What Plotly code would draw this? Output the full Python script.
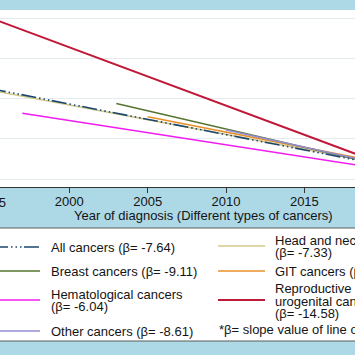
import plotly.graph_objects as go

# ---- data (lines of best fit) ----
series = ["All cancers", "Breast cancers", "Hematological cancers", "Other cancers",
          "Head and neck cancers", "GIT cancers", "Reproductive and urogenital cancers"]
betas = ["-7.64", "-9.11", "-6.04", "-8.61", "-7.33", "-7.70", "-14.58"]
start_year = [1995, 2003, 1997, 2010, 1995, 2005, 1995]
end_year = [2019, 2019, 2019, 2019, 2019, 2019, 2019]
start_val = [225, 188, 164, 122, 221, 155, 401]
end_val = [42, 43, 31, 45, 45, 48, 52]
x_ticks = [2000, 2005, 2010, 2015]
y_grid = [0, 100, 200, 300, 400]

# ---- styles ----
colors = {
    "All cancers": "#1a476f",
    "Breast cancers": "#55752f",
    "Hematological cancers": "#f01cf0",
    "Other cancers": "#948ed4",
    "Head and neck cancers": "#d2c88a",
    "GIT cancers": "#e8902a",
    "Reproductive and urogenital cancers": "#c01838",
}
widths = {"Reproductive and urogenital cancers": 2.0}
ALL_DASH = "15px,3px,1.5px,3px,1.5px,3px,1.5px,2.5px"
FONT = "Liberation Sans, Arial, Helvetica, sans-serif"
W, H = 355, 355
T, B = 10, 187  # plot area top / bottom in px

fig = go.Figure()
draw_order = [4, 5, 1, 2, 3, 0, 6]
for i in draw_order:
    name = series[i]
    fig.add_trace(go.Scatter(
        x=[start_year[i], end_year[i]], y=[start_val[i], end_val[i]],
        mode="lines", name=name, showlegend=False, hoverinfo="skip",
        line=dict(color=colors[name], width=widths.get(name, 1.6),
                  dash=ALL_DASH if name == "All cancers" else "solid"),
    ))


def px(xp):
    return xp / W


def py(yp):
    return (B - yp) / (B - T)


shapes = []
annots = []

# legend box
shapes.append(dict(type="rect", xref="paper", yref="paper", x0=-0.05, x1=1.05,
                   y0=py(341), y1=py(228), fillcolor="white",
                   line=dict(color="#5a5a5a", width=1), layer="below"))


def txt(s, xp, yp, anchor="left", size=13):
    annots.append(dict(text=s, x=px(xp), y=py(yp), xref="paper", yref="paper",
                       xanchor=anchor, yanchor="middle", showarrow=False,
                       font=dict(family=FONT, size=size, color="#141414")))


def legline(name, x0, x1, yp):
    shapes.append(dict(type="line", xref="paper", yref="paper",
                       x0=px(x0), x1=px(x1), y0=py(yp), y1=py(yp),
                       line=dict(color=colors[name], width=widths.get(name, 1.6),
                                 dash=ALL_DASH if name == "All cancers" else "solid")))


def lab(i):
    return series[i] + " (β= " + betas[i] + ")"


# left column
legline(series[0], -7, 40, 247)
txt(lab(0), 49, 247)
legline(series[1], -7, 40, 271)
txt(lab(1), 49, 271)
legline(series[2], -7, 40, 300)
txt(series[2], 49, 294)
txt("(β= " + betas[2] + ")", 49, 306)
legline(series[3], -7, 40, 331)
txt(lab(3), 49, 331)

# right column
legline(series[4], 218, 265, 246)
txt(series[4], 273, 240)
txt("(β= " + betas[4] + ")", 273, 253)
legline(series[5], 218, 265, 271)
txt(lab(5), 273, 271)
legline(series[6], 218, 265, 300)
txt("Reproductive and", 273, 288)
txt("urogenital cancers", 273, 301)
txt("(β= " + betas[6] + ")", 273, 313)
txt("*β= slope value of line of best fit", 217, 329)

# axis title and clipped first tick label
txt("Year of diagnosis (Different types of cancers)", 203, 215, anchor="center")
txt("1995", -9, 202, anchor="center")

fig.update_layout(
    width=W, height=H,
    margin=dict(l=0, r=0, t=T, b=H - B, pad=0),
    paper_bgcolor="#add8e6",
    plot_bgcolor="white",
    font=dict(family=FONT, size=13, color="#141414"),
    shapes=shapes, annotations=annots,
    xaxis=dict(range=[1995.577, 2018.232], tickmode="array", tickvals=x_ticks,
               ticktext=[str(v) for v in x_ticks],
               ticks="outside", ticklen=5, tickcolor="#333", tickwidth=1,
               ticklabelstandoff=-3,
               showline=True, linecolor="#333", linewidth=1,
               showgrid=False, zeroline=False,
               tickfont=dict(family=FONT, size=13, color="#141414")),
    yaxis=dict(range=[-19.95, 421.2], tickmode="array", tickvals=y_grid,
               showticklabels=False, ticks="", showgrid=True, gridcolor="#e4ecef",
               gridwidth=1, zeroline=False, showline=False),
    showlegend=False,
)

fig.write_html(
    "out.html",
    config={"displayModeBar": False, "staticPlot": True},
    post_script="document.body.style.margin='0';document.body.style.padding='0';"
                "document.body.style.overflow='hidden';",
)
